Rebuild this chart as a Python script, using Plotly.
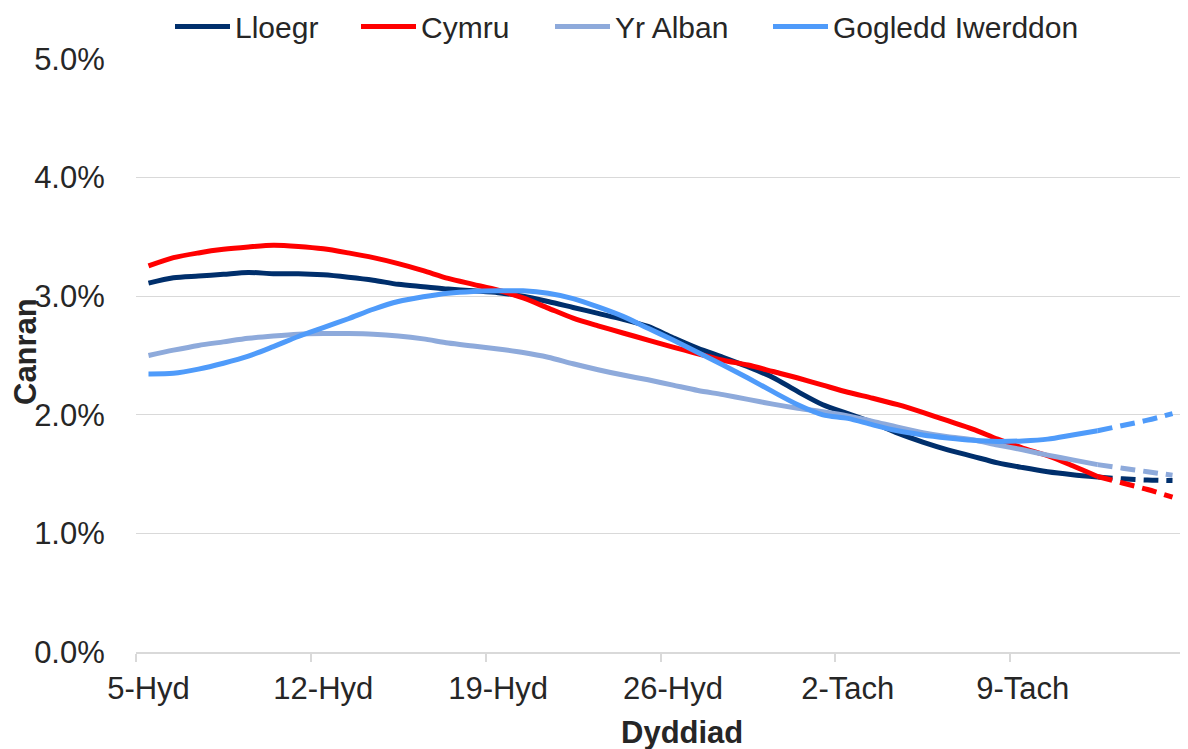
import pandas as pd
import plotly.graph_objects as go

# ---- data -------------------------------------------------------------
dates = pd.date_range("2020-10-05", "2020-11-15", freq="D")

series_names = ["Lloegr", "Cymru", "Yr Alban", "Gogledd Iwerddon"]

lloegr = [3.11, 3.155, 3.17, 3.185, 3.20, 3.19, 3.19, 3.18, 3.16, 3.135,
          3.10, 3.08, 3.06, 3.045, 3.03, 3.00, 2.955, 2.905, 2.855, 2.805,
          2.745, 2.65, 2.56, 2.485, 2.405, 2.315, 2.195, 2.085, 2.01, 1.935,
          1.845, 1.77, 1.705, 1.65, 1.595, 1.555, 1.52, 1.495, 1.475, 1.46,
          1.45, 1.445]
cymru = [3.255, 3.325, 3.365, 3.395, 3.415, 3.43, 3.42, 3.40, 3.365, 3.325,
         3.275, 3.215, 3.15, 3.10, 3.05, 2.985, 2.90, 2.815, 2.75, 2.69,
         2.63, 2.57, 2.515, 2.46, 2.42, 2.365, 2.31, 2.25, 2.19, 2.14,
         2.085, 2.02, 1.95, 1.88, 1.795, 1.72, 1.655, 1.57, 1.48, 1.425,
         1.37, 1.305]
yr_alban = [2.50, 2.545, 2.585, 2.615, 2.645, 2.665, 2.68, 2.685, 2.685, 2.68,
            2.665, 2.64, 2.605, 2.58, 2.555, 2.525, 2.485, 2.43, 2.38, 2.335,
            2.295, 2.25, 2.205, 2.17, 2.13, 2.09, 2.055, 2.025, 1.99, 1.945,
            1.895, 1.85, 1.815, 1.79, 1.745, 1.705, 1.66, 1.62, 1.58, 1.55,
            1.52, 1.49]
gogledd = [2.345, 2.35, 2.385, 2.435, 2.495, 2.575, 2.66, 2.735, 2.81, 2.89,
           2.955, 2.995, 3.025, 3.04, 3.045, 3.045, 3.025, 2.98, 2.91, 2.83,
           2.73, 2.63, 2.525, 2.42, 2.31, 2.195, 2.085, 2.0, 1.97, 1.915,
           1.865, 1.83, 1.805, 1.785, 1.775, 1.78, 1.795, 1.83, 1.865, 1.91,
           1.955, 2.01]

tick_dates = ["2020-10-05", "2020-10-12", "2020-10-19", "2020-10-26",
              "2020-11-02", "2020-11-09"]
tick_labels = ["5-Hyd", "12-Hyd", "19-Hyd", "26-Hyd", "2-Tach", "9-Tach"]
boundary_ticks = ["2020-10-04 12:00", "2020-10-11 12:00", "2020-10-18 12:00",
                  "2020-10-25 12:00", "2020-11-01 12:00", "2020-11-08 12:00",
                  "2020-11-15 12:00"]
y_ticks = [0, 1, 2, 3, 4, 5]
y_tick_labels = ["0.0%", "1.0%", "2.0%", "3.0%", "4.0%", "5.0%"]

solid_end = 38  # index where dashed projection begins

colors = ["#002F6C", "#FF0000", "#8EAADB", "#4F9BFA"]
values = [lloegr, cymru, yr_alban, gogledd]

# ---- layout geometry ------------------------------------------------------
# the page body has an 8px margin, so the figure is laid out 8px smaller
OFF = 8
W, H = 1188 - OFF, 749 - OFF
FONT = "Liberation Sans, Arial, sans-serif"
PL, PR, PT, PB = 136 - OFF, 1185 - OFF, 58.5 - OFF, 652.5 - OFF
PW, PH = PR - PL, PB - PT


def px_to_paper_x(px):
    return (px - OFF - PL) / PW


def px_to_paper_y(py):
    return (PB - (py - OFF)) / PH


fig = go.Figure()
legend_text_x = [235, 421, 615, 833]
legend_ids = ["legend", "legend2", "legend3", "legend4"]

for i, (name, vals, col) in enumerate(zip(series_names, values, colors)):
    fig.add_trace(go.Scatter(
        x=dates[:solid_end + 1], y=vals[:solid_end + 1], mode="lines",
        name=name, line=dict(color=col, width=5, shape="spline", smoothing=0.8),
        legend=legend_ids[i], hoverinfo="skip"))
    fig.add_trace(go.Scatter(
        x=dates[solid_end:], y=vals[solid_end:], mode="lines",
        name=name, showlegend=False,
        line=dict(color=col, width=5, dash="15px,8px", shape="spline", smoothing=0.8),
        hoverinfo="skip"))

legend_common = dict(orientation="h", yanchor="middle", xanchor="left",
                     y=px_to_paper_y(26), bgcolor="rgba(0,0,0,0)",
                     font=dict(family=FONT, size=30, color="#262626"),
                     itemwidth=55, entrywidthmode="pixels")
legend_entry_w = [100, 105, 130, 275]
layout_legends = {}
for lid, tx, ew in zip(legend_ids, legend_text_x, legend_entry_w):
    layout_legends[lid] = dict(legend_common, x=px_to_paper_x(tx - 65),
                               entrywidth=ew)

fig.update_layout(
    width=W, height=H,
    margin=dict(l=PL, r=W - PR, t=PT, b=H - PB, pad=0, autoexpand=False),
    paper_bgcolor="white", plot_bgcolor="white",
    font=dict(family=FONT, size=31, color="#262626"),
    showlegend=True,
    **layout_legends,
    xaxis=dict(
        type="date",
        range=["2020-10-04 12:00", "2020-11-15 12:00"],
        tickmode="array", tickvals=tick_dates, ticktext=tick_labels,
        ticks="outside", ticklen=8, tickcolor="rgba(0,0,0,0)",
        showgrid=False, showline=True, linecolor="#D9D9D9", linewidth=1.5,
        zeroline=False,
        tickfont=dict(family=FONT, size=31, color="#262626"),
        minor=dict(tickmode="array", tickvals=boundary_ticks, ticks="outside",
                   ticklen=8, tickcolor="#D9D9D9", tickwidth=1.5, showgrid=False),
    ),
    yaxis=dict(
        range=[0, 5], tickmode="array", tickvals=y_ticks, ticktext=y_tick_labels,
        ticks="outside", ticklen=24, tickcolor="rgba(0,0,0,0)",
        showgrid=True, gridcolor="#D9D9D9", gridwidth=1,
        zeroline=False, showline=False,
        tickfont=dict(family=FONT, size=31, color="#262626"),
    ),
    annotations=[
        dict(text="<b>Dyddiad</b>", xref="paper", yref="paper",
             x=px_to_paper_x(682), y=px_to_paper_y(733), xanchor="center",
             yanchor="middle", showarrow=False,
             font=dict(family=FONT, size=31, color="#262626")),
        dict(text="<b>Canran</b>", xref="paper", yref="paper",
             x=px_to_paper_x(25), y=px_to_paper_y(352), xanchor="center",
             yanchor="middle", textangle=-90, showarrow=False,
             font=dict(family=FONT, size=31, color="#262626")),
    ],
)

fig.write_html("out.html")
